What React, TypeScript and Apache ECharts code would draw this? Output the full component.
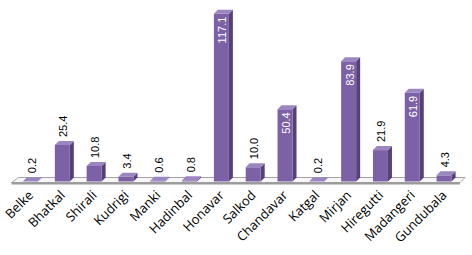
import React, { useEffect, useRef } from "react";
import * as echarts from "echarts";

const categories = [
  "Belke", "Bhatkal", "Shirali", "Kudrigi", "Manki", "Hadinbal", "Honavar",
  "Salkod", "Chandavar", "Katgal", "Mirjan", "Hiregutti", "Madangeri", "Gundubala",
];
const values = [0.2, 25.4, 10.8, 3.4, 0.6, 0.8, 117.1, 10.0, 50.4, 0.2, 83.9, 21.9, 61.9, 4.3];
const insideThreshold = 40;

const FRONT = "#7d61a6";
const SIDE = "#56407c";
const TOP = "#9b86c1";
const LABEL_FONT = '11px "Liberation Sans", Arial, sans-serif';

export default function App() {
  const ref = useRef<HTMLDivElement>(null);
  useEffect(() => {
    if (!ref.current) return;
    const chart = echarts.init(ref.current, null, { renderer: "svg" });
    const D = 4;
    const option: any = {
      animation: false,
      grid: { left: 14.6, right: 12, top: 9.5, bottom: 73.5 },
      xAxis: {
        type: "category",
        data: categories,
        axisLine: { show: false },
        axisTick: { show: false },
        axisLabel: {
          interval: 0,
          rotate: 45,
          margin: 11,
          color: "#000",
          fontSize: 13,
          fontFamily: '"Open Sans", sans-serif',
        },
      },
      yAxis: { type: "value", min: 0, max: 120, show: false, splitLine: { show: false } },
      series: [
        {
          type: "custom",
          z: 1,
          data: [[0, 0]],
          encode: { x: 0, y: 1 },
          renderItem: (params: any) => {
            const cs = params.coordSys;
            const base = cs.y + cs.height;
            const l = cs.x - 3;
            const r = cs.x + cs.width;
            const fy = base + 1;
            const by = base - 4;
            return {
              type: "group",
              children: [
                {
                  type: "polygon",
                  shape: { points: [[l, fy], [l + 7, by], [r + 5, by], [r, fy]] },
                  style: { fill: "#f7f7f7", stroke: "#a3a3a3", lineWidth: 1 },
                },
                {
                  type: "line",
                  shape: { x1: l, y1: fy + 1, x2: r, y2: fy + 1 },
                  style: { stroke: "#9a9a9a", lineWidth: 2 },
                },
              ],
            };
          },
        },
        {
          type: "custom",
          z: 2,
          data: values.map((v, i) => [i, v]),
          encode: { x: 0, y: 1 },
          renderItem: (params: any, api: any) => {
            const idx = api.value(0);
            const val = api.value(1);
            const topPt = api.coord([idx, val]);
            const basePt = api.coord([idx, 0]);
            const cx = topPt[0];
            const w = 15;
            const x0 = cx - w / 2;
            const x1 = cx + w / 2;
            const top = topPt[1];
            const base = basePt[1];
            const inside = val > insideThreshold;
            const text = val.toFixed(1);
            return {
              type: "group",
              children: [
                {
                  type: "polygon",
                  shape: { points: [[x1, top], [x1 + D, top - D], [x1 + D, base - D], [x1, base]] },
                  style: { fill: SIDE },
                },
                {
                  type: "rect",
                  shape: { x: x0, y: top, width: w, height: base - top },
                  style: { fill: FRONT },
                },
                {
                  type: "polygon",
                  shape: { points: [[x0, top], [x0 + D, top - D], [x1 + D, top - D], [x1, top]] },
                  style: { fill: TOP },
                },
                {
                  type: "text",
                  x: cx + 1,
                  y: inside ? top + 3 : top - D - 4,
                  rotation: Math.PI / 2,
                  style: {
                    text,
                    fill: inside ? "#ffffff" : "#000000",
                    font: LABEL_FONT,
                    align: inside ? "right" : "left",
                    verticalAlign: "middle",
                  },
                },
              ],
            };
          },
        },
      ],
    };
    chart.setOption(option);
    return () => chart.dispose();
  }, []);
  return (
    <div
      ref={ref}
      style={{ position: "fixed", left: 0, top: 0, width: 472, height: 255, background: "#fff" }}
    />
  );
}
